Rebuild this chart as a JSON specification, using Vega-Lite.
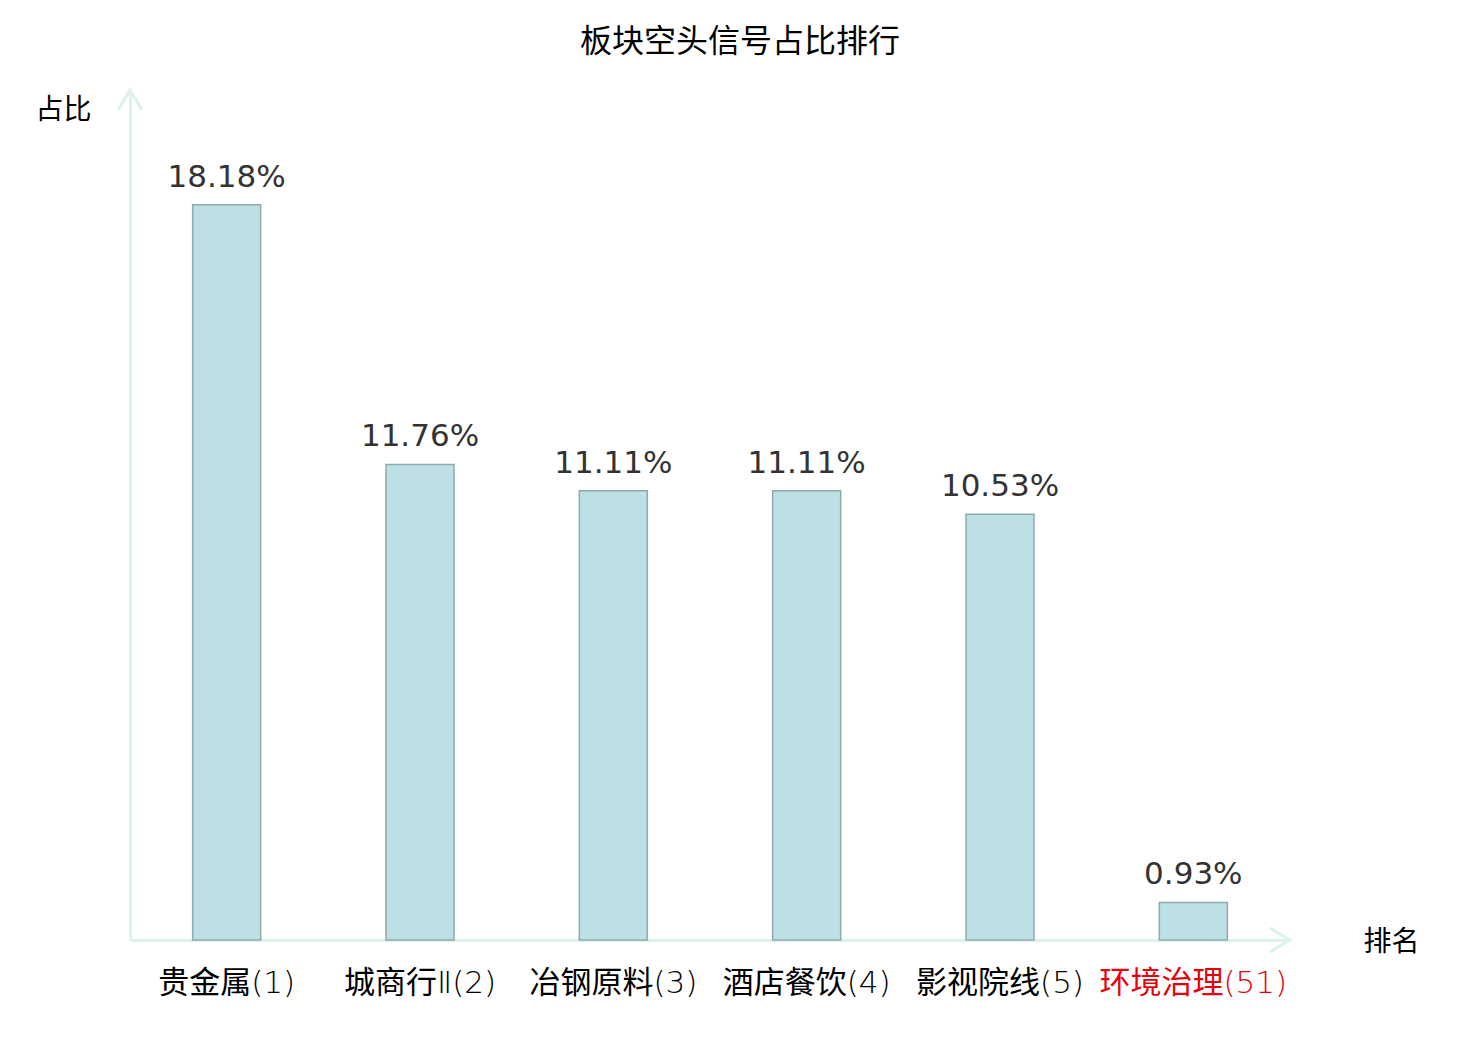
{
  "$schema": "https://vega.github.io/schema/vega-lite/v6.json",
  "description": "板块空头信号占比排行",
  "autosize": "none",
  "width": 1160,
  "height": 850,
  "padding": {"left": 130, "top": 90, "right": 190, "bottom": 100},
  "background": "white",
  "config": {
    "view": {"stroke": null},
    "axis": {
      "domain": true,
      "domainColor": "#ddf1ee",
      "domainWidth": 3,
      "ticks": false,
      "labels": false,
      "grid": false,
      "titleFont": "Noto Sans CJK SC",
      "titleFontSize": 28,
      "titleFontWeight": "normal",
      "titleColor": "#000000",
      "titleAlign": "center",
      "titleBaseline": "middle"
    },
    "axisX": {"titleX": 1261, "titleY": 2},
    "axisY": {"titleAngle": 0, "titleX": -67, "titleY": 20}
  },
  "title": {
    "text": "板块空头信号占比排行",
    "font": "Noto Sans CJK SC",
    "fontSize": 32,
    "fontWeight": "normal",
    "color": "#000000",
    "anchor": "middle",
    "dx": 30,
    "offset": 25
  },
  "data": {
    "values": [
      {"idx": 1, "label": "贵金属(1)", "pct": 0.1818, "focus": false},
      {"idx": 2, "label": "城商行Ⅱ(2)", "pct": 0.1176, "focus": false},
      {"idx": 3, "label": "冶钢原料(3)", "pct": 0.1111, "focus": false},
      {"idx": 4, "label": "酒店餐饮(4)", "pct": 0.1111, "focus": false},
      {"idx": 5, "label": "影视院线(5)", "pct": 0.1053, "focus": false},
      {"idx": 6, "label": "环境治理(51)", "pct": 0.0093, "focus": true}
    ]
  },
  "layer": [
    {
      "mark": {"type": "bar", "orient": "vertical", "width": 68, "fill": "#bce0e3", "stroke": "#8eaaab", "strokeWidth": 1.5},
      "encoding": {
        "x": {
          "field": "idx",
          "type": "quantitative",
          "title": "排名",
          "scale": {"domain": [0.5, 6.5], "nice": false, "zero": false, "padding": 0}
        },
        "y": {
          "field": "pct",
          "type": "quantitative",
          "title": "占比",
          "stack": null,
          "scale": {"domain": [0, 0.2102], "nice": false, "zero": true, "padding": 0}
        }
      }
    },
    {
      "mark": {"type": "text", "font": "DejaVu Sans", "fontSize": 31, "color": "#333333", "baseline": "alphabetic", "dy": -18},
      "encoding": {
        "x": {"field": "idx", "type": "quantitative", "title": "排名"},
        "y": {"field": "pct", "type": "quantitative", "title": "占比"},
        "text": {"field": "pct", "type": "quantitative", "format": ".2%"}
      }
    },
    {
      "mark": {"type": "text", "font": "DejaVu Sans Light, Noto Sans CJK SC", "fontSize": 31, "fontWeight": "normal", "baseline": "middle", "dy": 44},
      "encoding": {
        "x": {"field": "idx", "type": "quantitative", "title": "排名"},
        "y": {"datum": 0, "title": "占比"},
        "text": {"field": "label", "type": "nominal"},
        "color": {
          "condition": {"test": "datum.focus", "value": "#e8000b"},
          "value": "#000000"
        }
      }
    },
    {
      "data": {"values": [{}]},
      "mark": {"type": "point", "shape": "M-0.6,1L0,0L0.6,1", "size": 1600, "filled": false, "stroke": "#ddf1ee", "strokeWidth": 3, "opacity": 1},
      "encoding": {
        "x": {"datum": 0.5, "title": "排名"},
        "y": {"datum": 0.2102, "title": "占比"}
      }
    },
    {
      "data": {"values": [{}]},
      "mark": {"type": "point", "shape": "M-1,-0.6L0,0L-1,0.6", "size": 1600, "filled": false, "stroke": "#ddf1ee", "strokeWidth": 3, "opacity": 1},
      "encoding": {
        "x": {"datum": 6.5, "title": "排名"},
        "y": {"datum": 0, "title": "占比"}
      }
    }
  ]
}
